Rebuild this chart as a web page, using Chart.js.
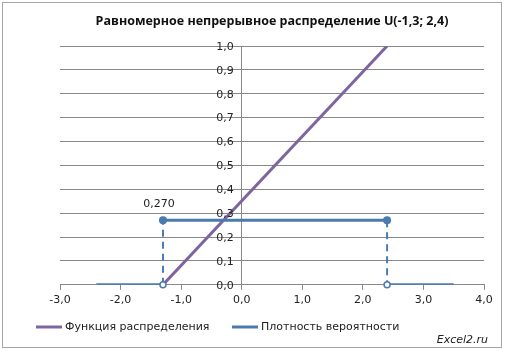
<!DOCTYPE html>
<html>
<head>
<meta charset="utf-8">
<script src="https://cdn.jsdelivr.net/npm/chart.js@4.4.1/dist/chart.umd.min.js"></script>
<style>
  html, body { margin: 0; padding: 0; background: #fff; }
  #wrap { width: 505px; height: 352px; }
</style>
</head>
<body>
<div id="wrap"><canvas id="chart" width="505" height="352"></canvas></div>
<script>
// Uniform distribution U(a; b)
const a = -1.3;
const b = 2.4;
const density = 0.270;
const tailLeft = -2.4;
const tailRight = 3.5;

const cdfX = [a, b];
const cdfY = [0, 1];
const pdfX = [tailLeft, a, a, b, b, tailRight];
const pdfY = [0, 0, density, density, 0, 0];

const titleText = 'Равномерное непрерывное распределение U(-1,3; 2,4)';
const seriesNames = ['Функция распределения', 'Плотность вероятности'];
const purple = '#7f65a0';
const blue = '#4a7ab0';
const gridColor = '#888888';

function pts(xs, ys, i, j) {
    const out = [];
    for (let k = i; k <= j; k++) out.push({ x: xs[k], y: ys[k] });
    return out;
}
function comma(v, d) {
    return v.toFixed(d).replace('.', ',');
}

// y labels next to the centred axis, data label, legend, watermark, border
const extras = {
    id: 'extras',
    afterDraw(chart) {
        const ctx = chart.ctx;
        const xs = chart.scales.x, ys = chart.scales.y;
        ctx.save();
        ctx.font = '11px "DejaVu Sans"';
        ctx.fillStyle = '#222';
        ctx.textBaseline = 'middle';

        ctx.textAlign = 'right';
        const ax = xs.getPixelForValue(0);
        ys.ticks.forEach(t => {
            ctx.fillText(comma(t.value, 1), ax - 8, ys.getPixelForValue(t.value) + 1);
        });

        ctx.textAlign = 'center';
        ctx.fillText(comma(density, 3), xs.getPixelForValue(a) - 4, ys.getPixelForValue(density) - 16);

        const items = [{ x: 36, c: purple, t: seriesNames[0] }, { x: 232, c: blue, t: seriesNames[1] }];
        ctx.textAlign = 'left';
        items.forEach(it => {
            ctx.strokeStyle = it.c;
            ctx.lineWidth = 3;
            ctx.beginPath();
            ctx.moveTo(it.x, 327);
            ctx.lineTo(it.x + 26, 327);
            ctx.stroke();
            ctx.fillText(it.t, it.x + 29, 327);
        });

        ctx.font = 'italic 11px "DejaVu Sans"';
        ctx.textAlign = 'right';
        ctx.fillText('Excel2.ru', 488, 340);

        ctx.strokeStyle = '#a6a6a6';
        ctx.lineWidth = 1;
        ctx.strokeRect(2.5, 2.5, 499, 345);
        ctx.restore();
    }
};

new Chart(document.getElementById('chart'), {
    type: 'scatter',
    data: {
        datasets: [
            { label: seriesNames[0], data: pts(cdfX, cdfY, 0, 1), showLine: true, borderColor: purple, borderWidth: 3, pointRadius: 0, order: 2 },
            { label: seriesNames[1], data: pts(pdfX, pdfY, 0, 1), showLine: true, borderColor: blue, borderWidth: 3, pointRadius: 0, order: 1 },
            { label: '', data: pts(pdfX, pdfY, 1, 2), showLine: true, borderColor: blue, borderWidth: 2, borderDash: [7, 5], pointRadius: 0, order: 1 },
            { label: '', data: pts(pdfX, pdfY, 2, 3), showLine: true, borderColor: blue, borderWidth: 3, pointRadius: 4, pointBorderWidth: 0, pointBackgroundColor: blue, order: 1 },
            { label: '', data: pts(pdfX, pdfY, 3, 4), showLine: true, borderColor: blue, borderWidth: 2, borderDash: [7, 5], pointRadius: 0, order: 1 },
            { label: '', data: pts(pdfX, pdfY, 4, 5), showLine: true, borderColor: blue, borderWidth: 3, pointRadius: 0, order: 1 },
            { label: '', data: [{ x: a, y: 0 }, { x: b, y: 0 }], showLine: false, clip: false, pointRadius: 3, pointBorderWidth: 1.5, pointBackgroundColor: '#fff', pointBorderColor: blue, order: 0 }
        ]
    },
    options: {
        responsive: false,
        animation: false,
        layout: { padding: { left: 60, right: 21, top: 5, bottom: 41 } },
        plugins: {
            legend: { display: false },
            tooltip: { enabled: false },
            title: {
                display: true,
                text: titleText,
                color: '#111',
                font: { family: '"Open Sans"', size: 12.5, weight: 'bold' },
                padding: { top: 9, bottom: 17 }
            }
        },
        scales: {
            x: {
                type: 'linear',
                min: -3, max: 4,
                grid: { drawOnChartArea: false, drawTicks: true, tickLength: 5, color: gridColor },
                border: { color: gridColor },
                ticks: {
                    stepSize: 1,
                    padding: 4,
                    color: '#222',
                    font: { family: '"DejaVu Sans"', size: 11 },
                    callback: v => comma(v, 1)
                }
            },
            y: {
                position: { x: 0 },
                min: 0, max: 1,
                grid: { color: gridColor, drawTicks: false },
                border: { color: gridColor },
                ticks: { stepSize: 0.1, display: false }
            }
        }
    },
    plugins: [extras]
});
</script>
</body>
</html>
